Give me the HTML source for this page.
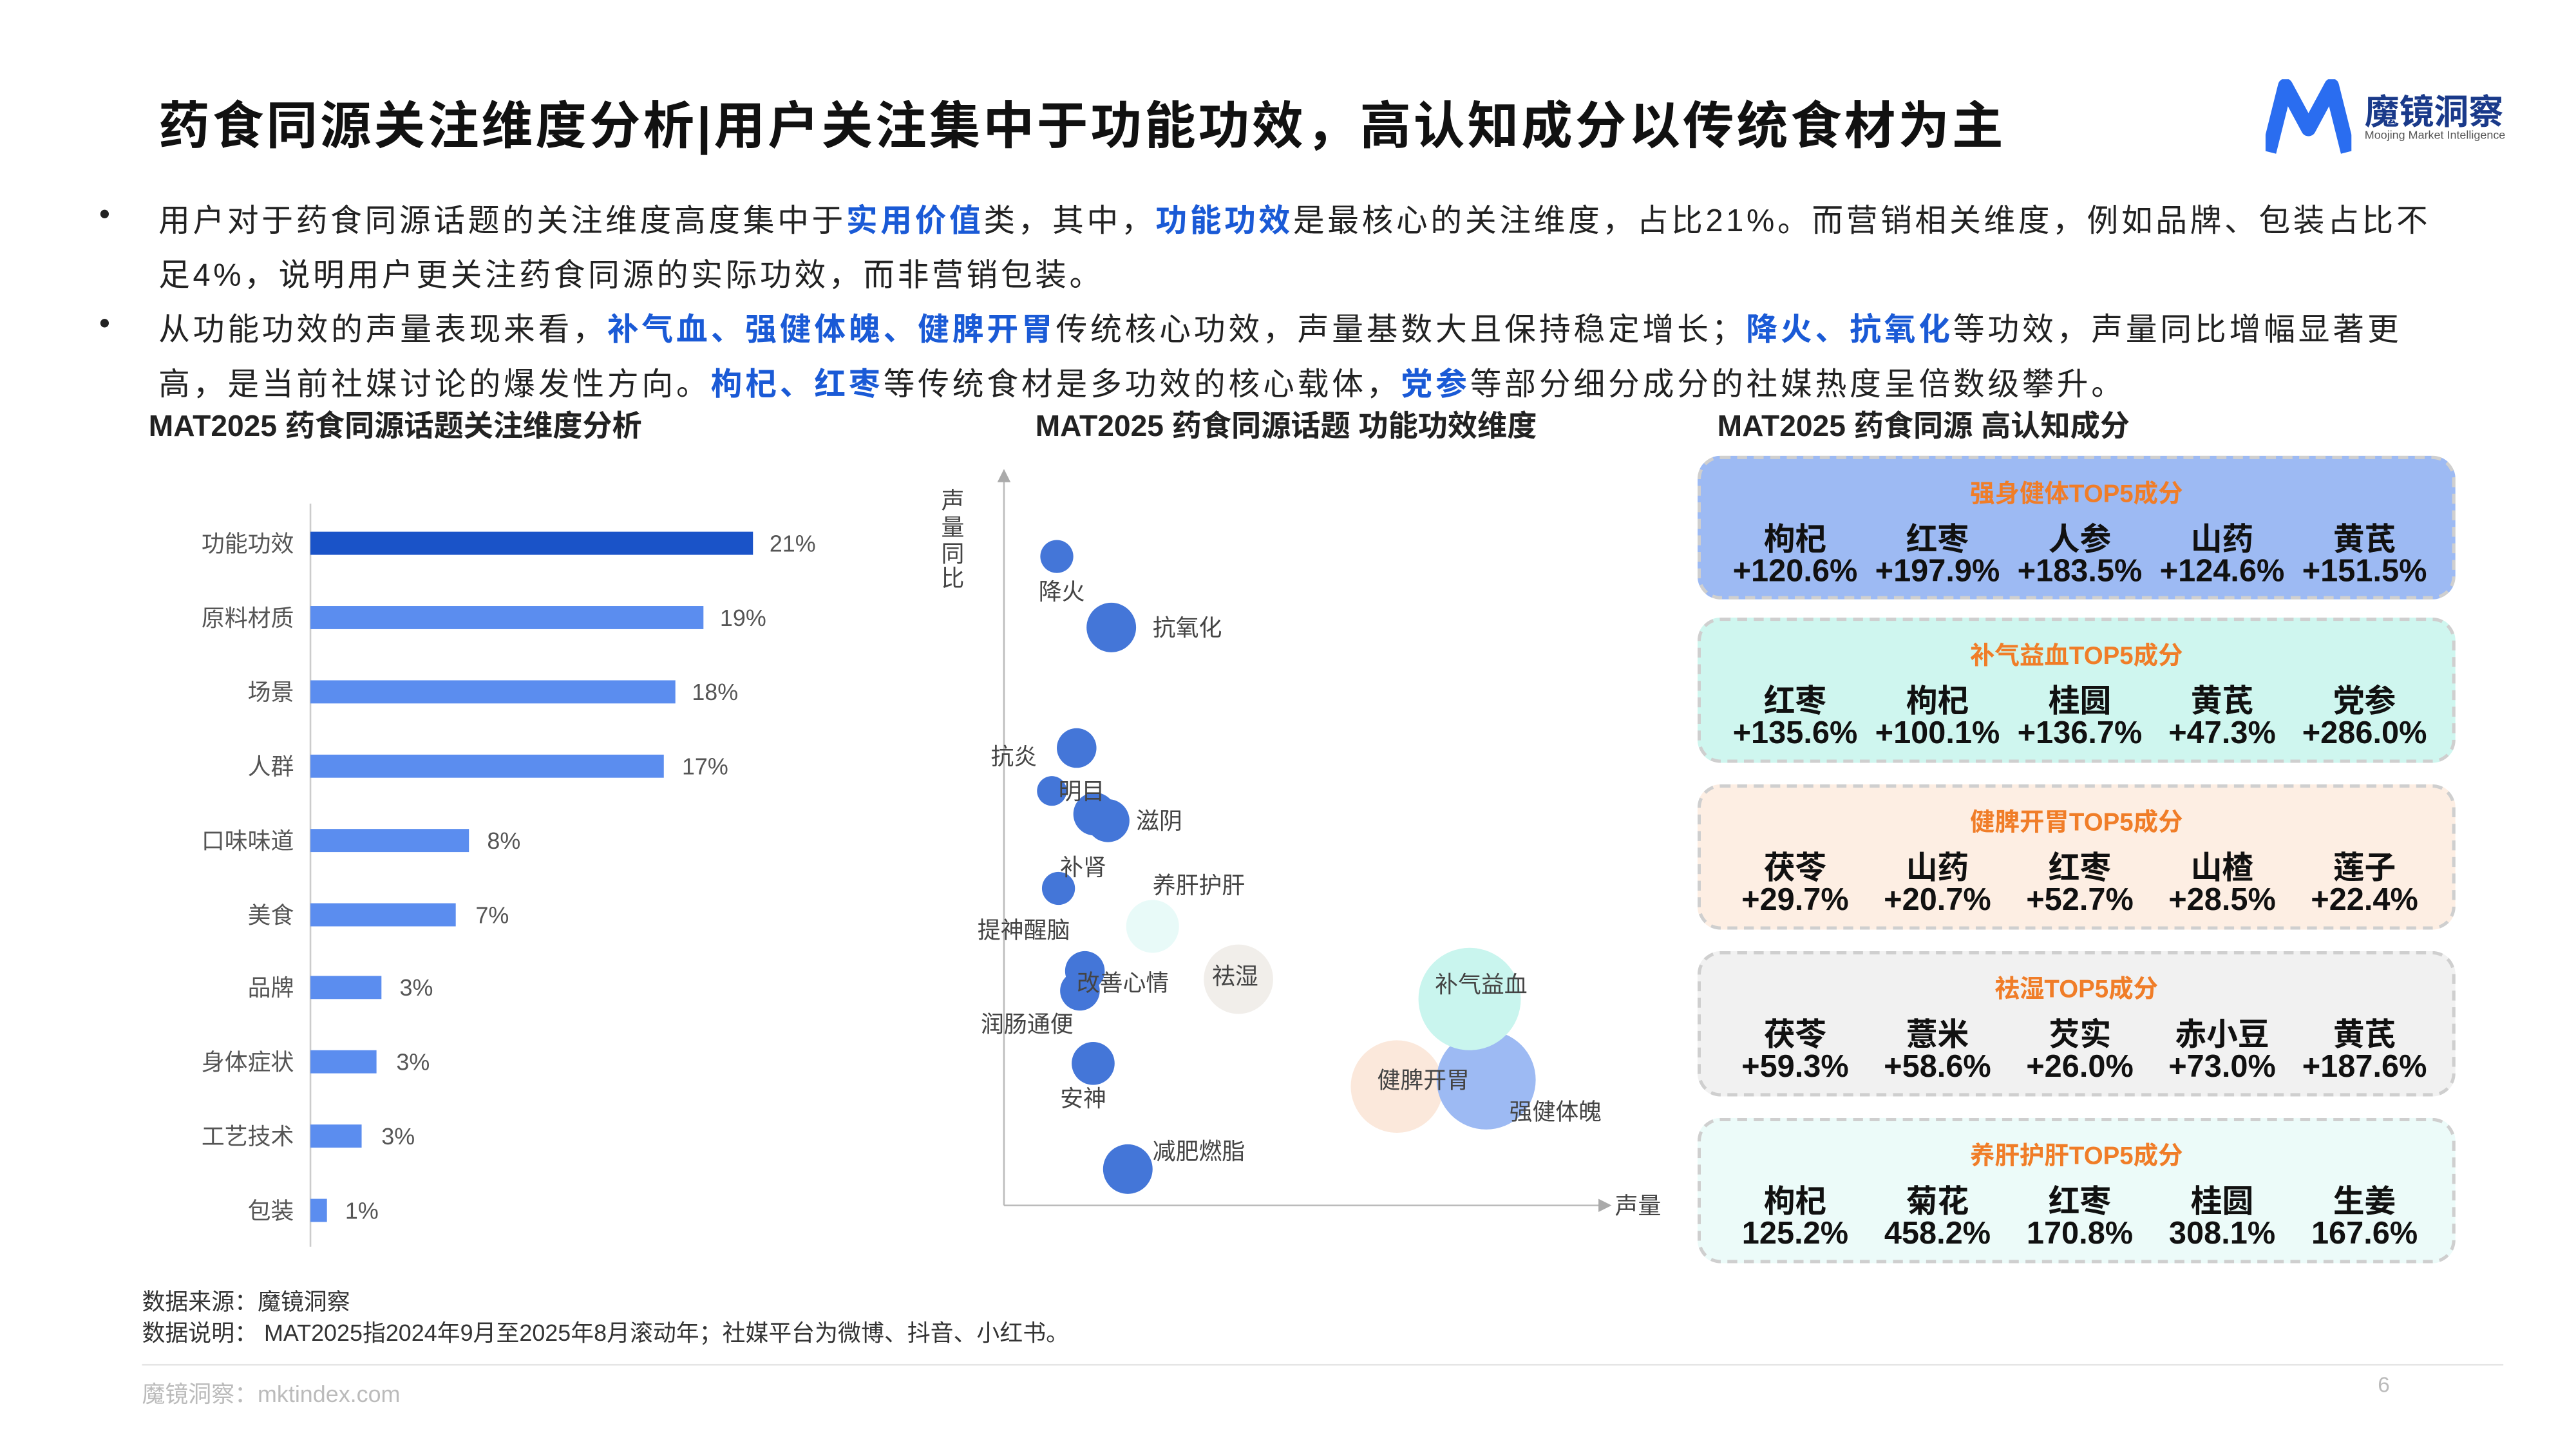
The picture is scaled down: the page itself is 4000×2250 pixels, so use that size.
<!DOCTYPE html>
<html><head><meta charset="utf-8">
<style>
html,body{margin:0;padding:0;background:#fff;}
#wrap{width:4000px;height:2250px;overflow:hidden;position:relative;}
#s{width:1560px;height:878px;position:absolute;left:0;top:0;transform:scale(2.5641);transform-origin:0 0;font-family:"Liberation Sans","Noto Sans CJK SC",sans-serif;color:#222;}
.a{position:absolute;white-space:nowrap;}
.b{color:#1a5ad6;font-weight:bold;}
.card{position:absolute;left:1028px;width:459px;border:2px dashed #cfcfcf;border-radius:14px;box-sizing:border-box;}
.card .t{position:absolute;top:10px;width:100%;text-align:center;color:#f07d28;font-size:15px;font-weight:bold;}
.card .r{position:absolute;left:14px;width:431px;display:flex;}
.card .r div{flex:1;text-align:center;font-weight:bold;font-size:19px;color:#111;}
</style></head><body><div id="wrap"><div id="s">
<div class="a" style="left:96px;top:51px;font-size:31px;font-weight:bold;color:#111;letter-spacing:1.6px;">药食同源关注维度分析|用户关注集中于功能功效，高认知成分以传统食材为主</div>
<div class="a" style="left:1372px;top:48px;">
<svg width="52" height="46" viewBox="0 0 52 46"><path d="M2 44 L12 4 L26 30 L40 4 L50 44" fill="none" stroke="#2a6df0" stroke-width="9" stroke-linejoin="round"/></svg></div>
<div class="a" style="left:1432px;top:52px;font-size:21px;font-weight:bold;color:#1a3a8a;">魔镜洞察</div>
<div class="a" style="left:1432px;top:79px;font-size:7px;color:#555;">Moojing Market Intelligence</div>

<div class="a" style="left:60px;top:120px;font-size:19px;">•</div>
<div class="a" style="left:96px;top:118px;font-size:19px;line-height:33px;white-space:normal;width:1380px;letter-spacing:1.82px;">用户对于药食同源话题的关注维度高度集中于<span class="b">实用价值</span>类，其中，<span class="b">功能功效</span>是最核心的关注维度，占比21%。而营销相关维度，例如品牌、包装占比不足4%，说明用户更关注药食同源的实际功效，而非营销包装。</div>
<div class="a" style="left:60px;top:186px;font-size:19px;">•</div>
<div class="a" style="left:96px;top:184px;font-size:19px;line-height:33px;white-space:normal;width:1400px;letter-spacing:1.9px;">从功能功效的声量表现来看，<span class="b">补气血、强健体魄、健脾开胃</span>传统核心功效，声量基数大且保持稳定增长；<span class="b">降火、抗氧化</span>等功效，声量同比增幅显著更高，是当前社媒讨论的爆发性方向。<span class="b">枸杞、红枣</span>等传统食材是多功效的核心载体，<span class="b">党参</span>等部分细分成分的社媒热度呈倍数级攀升。</div>

<div class="a" style="left:90px;top:244px;font-size:18px;font-weight:bold;">MAT2025 药食同源话题关注维度分析</div>
<div class="a" style="left:627px;top:244px;font-size:18px;font-weight:bold;">MAT2025 药食同源话题 功能功效维度</div>
<div class="a" style="left:1040px;top:244px;font-size:18px;font-weight:bold;">MAT2025 药食同源 高认知成分</div>

<svg class="a" style="left:0;top:0" width="1560" height="878">
<line x1="188" y1="305" x2="188" y2="755" stroke="#ccc"/>
<g font-size="14" fill="#555" font-family="Liberation Sans,Noto Sans CJK SC,sans-serif">
<rect x="188" y="322" width="268" height="14" fill="#1a53c8"/><text x="178" y="334" text-anchor="end">功能功效</text><text x="466" y="334">21%</text>
<rect x="188" y="367" width="238" height="14" fill="#5b8def"/><text x="178" y="379" text-anchor="end">原料材质</text><text x="436" y="379">19%</text>
<rect x="188" y="412" width="221" height="14" fill="#5b8def"/><text x="178" y="424" text-anchor="end">场景</text><text x="419" y="424">18%</text>
<rect x="188" y="457" width="214" height="14" fill="#5b8def"/><text x="178" y="469" text-anchor="end">人群</text><text x="413" y="469">17%</text>
<rect x="188" y="502" width="96" height="14" fill="#5b8def"/><text x="178" y="514" text-anchor="end">口味味道</text><text x="295" y="514">8%</text>
<rect x="188" y="547" width="88" height="14" fill="#5b8def"/><text x="178" y="559" text-anchor="end">美食</text><text x="288" y="559">7%</text>
<rect x="188" y="591" width="43" height="14" fill="#5b8def"/><text x="178" y="603" text-anchor="end">品牌</text><text x="242" y="603">3%</text>
<rect x="188" y="636" width="40" height="14" fill="#5b8def"/><text x="178" y="648" text-anchor="end">身体症状</text><text x="240" y="648">3%</text>
<rect x="188" y="681" width="31" height="14" fill="#5b8def"/><text x="178" y="693" text-anchor="end">工艺技术</text><text x="231" y="693">3%</text>
<rect x="188" y="726" width="10" height="14" fill="#5b8def"/><text x="178" y="738" text-anchor="end">包装</text><text x="209" y="738">1%</text>
</g>
<line x1="608" y1="290" x2="608" y2="730" stroke="#bbb"/><path d="M604 292 L608 284 L612 292Z" fill="#aaa"/>
<line x1="608" y1="730" x2="972" y2="730" stroke="#bbb"/><path d="M968 726 L976 730 L968 734Z" fill="#aaa"/>
<g fill="#3a6fd6" opacity="0.95">
<circle cx="640" cy="337" r="10"/><circle cx="673" cy="380" r="15"/><circle cx="652" cy="453" r="12"/><circle cx="637" cy="479" r="9"/>
<circle cx="663" cy="493" r="13"/><circle cx="671" cy="497" r="13"/><circle cx="641" cy="538" r="10"/>
<circle cx="657" cy="588" r="12"/><circle cx="654" cy="600" r="12"/><circle cx="662" cy="644" r="13"/><circle cx="683" cy="708" r="15"/>
</g>
<circle cx="698" cy="561" r="16" fill="#e8faf8"/><circle cx="750" cy="593" r="21" fill="#f1eeea"/>
<circle cx="846" cy="658" r="28" fill="#fbe8db"/><circle cx="900" cy="654" r="30" fill="#9dbaf3"/><circle cx="890" cy="605" r="31" fill="#c9f5ee"/>
<g font-size="14" fill="#444" font-family="Liberation Sans,Noto Sans CJK SC,sans-serif">
<text x="629" y="363">降火</text><text x="698" y="385">抗氧化</text><text x="600" y="463">抗炎</text><text x="641" y="484">明目</text><text x="688" y="502">滋阴</text>
<text x="642" y="530">补肾</text><text x="698" y="541">养肝护肝</text><text x="592" y="568">提神醒脑</text><text x="734" y="596">祛湿</text><text x="652" y="600">改善心情</text>
<text x="594" y="625">润肠通便</text><text x="642" y="670">安神</text><text x="698" y="702">减肥燃脂</text><text x="869" y="601">补气益血</text><text x="834" y="659">健脾开胃</text><text x="914" y="678">强健体魄</text>
<text x="978" y="735">声量</text>
<text x="570" y="308">声</text><text x="570" y="324">量</text><text x="570" y="340">同</text><text x="570" y="355">比</text>
</g>
</svg>

<div class="card" style="top:276px;height:87px;background:#9dbaf3;"><div class="t">强身健体TOP5成分</div>
<div class="r" style="top:34px"><div>枸杞</div><div>红枣</div><div>人参</div><div>山药</div><div>黄芪</div></div>
<div class="r" style="top:58px"><div>+120.6%</div><div>+197.9%</div><div>+183.5%</div><div>+124.6%</div><div>+151.5%</div></div></div>
<div class="card" style="top:374px;height:88px;background:#cff6ef;"><div class="t">补气益血TOP5成分</div>
<div class="r" style="top:34px"><div>红枣</div><div>枸杞</div><div>桂圆</div><div>黄芪</div><div>党参</div></div>
<div class="r" style="top:58px"><div>+135.6%</div><div>+100.1%</div><div>+136.7%</div><div>+47.3%</div><div>+286.0%</div></div></div>
<div class="card" style="top:475px;height:88px;background:#fdeee3;"><div class="t">健脾开胃TOP5成分</div>
<div class="r" style="top:34px"><div>茯苓</div><div>山药</div><div>红枣</div><div>山楂</div><div>莲子</div></div>
<div class="r" style="top:58px"><div>+29.7%</div><div>+20.7%</div><div>+52.7%</div><div>+28.5%</div><div>+22.4%</div></div></div>
<div class="card" style="top:576px;height:88px;background:#f1f1f1;"><div class="t">祛湿TOP5成分</div>
<div class="r" style="top:34px"><div>茯苓</div><div>薏米</div><div>芡实</div><div>赤小豆</div><div>黄芪</div></div>
<div class="r" style="top:58px"><div>+59.3%</div><div>+58.6%</div><div>+26.0%</div><div>+73.0%</div><div>+187.6%</div></div></div>
<div class="card" style="top:677px;height:88px;background:#ecfbf9;"><div class="t">养肝护肝TOP5成分</div>
<div class="r" style="top:34px"><div>枸杞</div><div>菊花</div><div>红枣</div><div>桂圆</div><div>生姜</div></div>
<div class="r" style="top:58px"><div>125.2%</div><div>458.2%</div><div>170.8%</div><div>308.1%</div><div>167.6%</div></div></div>

<div class="a" style="left:86px;top:778px;font-size:14px;color:#333;">数据来源：魔镜洞察</div>
<div class="a" style="left:86px;top:797px;font-size:14px;color:#333;">数据说明： MAT2025指2024年9月至2025年8月滚动年；社媒平台为微博、抖音、小红书。</div>
<div class="a" style="left:86px;top:826px;width:1430px;height:1px;background:#e5e5e5;"></div>
<div class="a" style="left:86px;top:834px;font-size:14px;color:#bbb;">魔镜洞察：mktindex.com</div>
<div class="a" style="left:1440px;top:831px;font-size:13px;color:#bbb;">6</div>
</div></div></body></html>
